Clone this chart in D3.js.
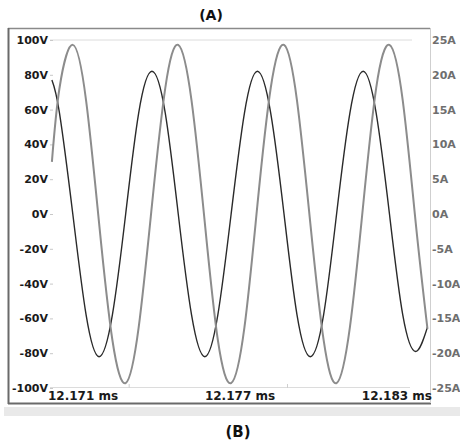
<!DOCTYPE html>
<html>
<head>
<meta charset="utf-8">
<script src="https://cdn.jsdelivr.net/npm/d3@7"></script>
<style>
  html, body { margin: 0; padding: 0; background: #fff; }
</style>
</head>
<body>
<div id="container"></div>
<script>
/* time in microseconds after 12.171 ms */
const timeUs = [0.06, 0.30, 0.72, 1.14, 1.55, 1.97, 2.39, 2.80, 3.22, 3.64, 4.05, 4.47, 4.89, 5.30, 5.72,
  6.14, 6.55, 6.97, 7.39, 7.80, 8.22, 8.64, 9.05, 9.47, 9.89, 10.30, 10.72, 11.14, 11.55, 11.92];

/* voltage trace (V) */
const voltage = [77, 58, 0, -58, -82, -58, 0, 58, 82, 58, 0, -58, -82, -58, 0,
  58, 82, 58, 0, -58, -82, -58, 0, 58, 82, 58, 0, -58, -79, -65];

/* current trace (A) */
const current = [7.5, 18.1, 24.3, 16.3, -1.3, -18.1, -24.3, -16.3, 1.3, 18.1, 24.3, 16.3, -1.3, -18.1, -24.3,
  -16.3, 1.3, 18.1, 24.3, 16.3, -1.3, -18.1, -24.3, -16.3, 1.3, 18.1, 24.3, 16.3, -1.3, -16.5];

const voltTicks = [100, 80, 60, 40, 20, 0, -20, -40, -60, -80, -100];
const ampTicks = [25, 20, 15, 10, 5, 0, -5, -10, -15, -20, -25];
const timeLabels = ["12.171 ms", "12.177 ms", "12.183 ms"];
const timeLabelPos = [0, 6, 12];
const minorTimeTicks = [2.5, 7.5];

const width = 460, height = 444,
fontPolice = "DejaVu Sans";

const svg = d3.select("#container").append("svg")
  .attr("width", width)
  .attr("height", height)
  .style("display", "block");

svg.append("rect").attr("width", width).attr("height", height).attr("fill", "#fff");

const x = d3.scaleLinear().domain([0, 12]).range([50, 430]);
const yV = d3.scaleLinear().domain([-100, 100]).range([388, 40]);
const yA = d3.scaleLinear().domain([-25, 25]).range([388, 40]);

/* titles */
svg.append("text")
  .attr("x", 211).attr("y", 20)
  .attr("text-anchor", "middle")
  .style("font-family", fontPolice).style("font-weight", "bold").style("font-size", "14px")
  .attr("fill", "#111")
  .text("(A)");
svg.append("text")
  .attr("x", 238).attr("y", 437)
  .attr("text-anchor", "middle")
  .style("font-family", fontPolice).style("font-weight", "bold").style("font-size", "15px")
  .attr("fill", "#111")
  .text("(B)");

/* light band under the frame */
svg.append("rect")
  .attr("x", 4).attr("y", 407).attr("width", 456).attr("height", 9)
  .attr("fill", "#e9e9e9");

/* frame */
svg.append("line").attr("x1", 8).attr("x2", 430).attr("y1", 28.5).attr("y2", 28.5)
  .attr("stroke", "#8a8a8a").attr("stroke-width", 1.5);
svg.append("line").attr("x1", 8.5).attr("x2", 8.5).attr("y1", 28).attr("y2", 404)
  .attr("stroke", "#6a6a6a").attr("stroke-width", 2);
svg.append("line").attr("x1", 8).attr("x2", 431).attr("y1", 403.5).attr("y2", 403.5)
  .attr("stroke", "#6a6a6a").attr("stroke-width", 2);
svg.append("line").attr("x1", 430.5).attr("x2", 430.5).attr("y1", 28).attr("y2", 403)
  .attr("stroke", "#cfcfcf").attr("stroke-width", 1);

/* top gridline and bottom axis */
svg.append("line").attr("x1", 50).attr("x2", 412).attr("y1", yV(100)).attr("y2", yV(100))
  .attr("stroke", "#dcdcdc");
svg.append("line").attr("x1", 50).attr("x2", 410).attr("y1", yV(-100) - 0.5).attr("y2", yV(-100) - 0.5)
  .attr("stroke", "#dcdcdc");
svg.selectAll(".mtick")
  .data(minorTimeTicks)
  .enter().append("line")
    .attr("x1", d => x(d)).attr("x2", d => x(d))
    .attr("y1", yV(-100) - 4).attr("y2", yV(-100))
    .attr("stroke", "#cfcfcf");

/* left axis */
const leftAxis = svg.append("g")
  .attr("transform", "translate(53,0)")
  .call(d3.axisLeft(yV).tickValues(voltTicks).tickSize(3).tickPadding(2).tickFormat(d => d + "V"));
leftAxis.select(".domain").remove();
leftAxis.selectAll(".tick line").attr("stroke", "#c8c8c8");
leftAxis.selectAll("text")
  .style("font-family", fontPolice).style("font-weight", "bold").style("font-size", "11px")
  .attr("fill", "#1a1a1a");

/* right axis */
const rightAxis = svg.append("g")
  .attr("transform", "translate(430,0)")
  .call(d3.axisRight(yA).tickValues(ampTicks).tickSize(0).tickPadding(2).tickFormat(d => d + "A"));
rightAxis.select(".domain").remove();
rightAxis.selectAll("text")
  .style("font-family", fontPolice).style("font-weight", "bold").style("font-size", "11px")
  .attr("fill", "#6e6e6e");

/* time labels */
svg.selectAll(".tlabel")
  .data(timeLabels)
  .enter().append("text")
    .attr("x", (d, i) => x(timeLabelPos[i]) + (i == 0 ? -2 : (i == 2 ? 2 : 0)))
    .attr("y", 400)
    .attr("text-anchor", (d, i) => i == 0 ? "start" : (i == 2 ? "end" : "middle"))
    .style("font-family", fontPolice).style("font-weight", "bold").style("font-size", "12px")
    .attr("fill", "#1a1a1a")
    .text(d => d);

/* traces */
const currentLine = d3.line()
  .x((d, i) => x(timeUs[i]))
  .y(d => yA(d))
  .curve(d3.curveNatural);
const voltageLine = d3.line()
  .x((d, i) => x(timeUs[i]))
  .y(d => yV(d))
  .curve(d3.curveNatural);

svg.append("path")
  .attr("d", voltageLine(voltage))
  .attr("fill", "none")
  .attr("stroke", "#2a2a2a")
  .attr("stroke-width", 1.4);

svg.append("path")
  .attr("d", currentLine(current))
  .attr("fill", "none")
  .attr("stroke", "#8c8c8c")
  .attr("stroke-width", 2);
</script>
</body>
</html>
